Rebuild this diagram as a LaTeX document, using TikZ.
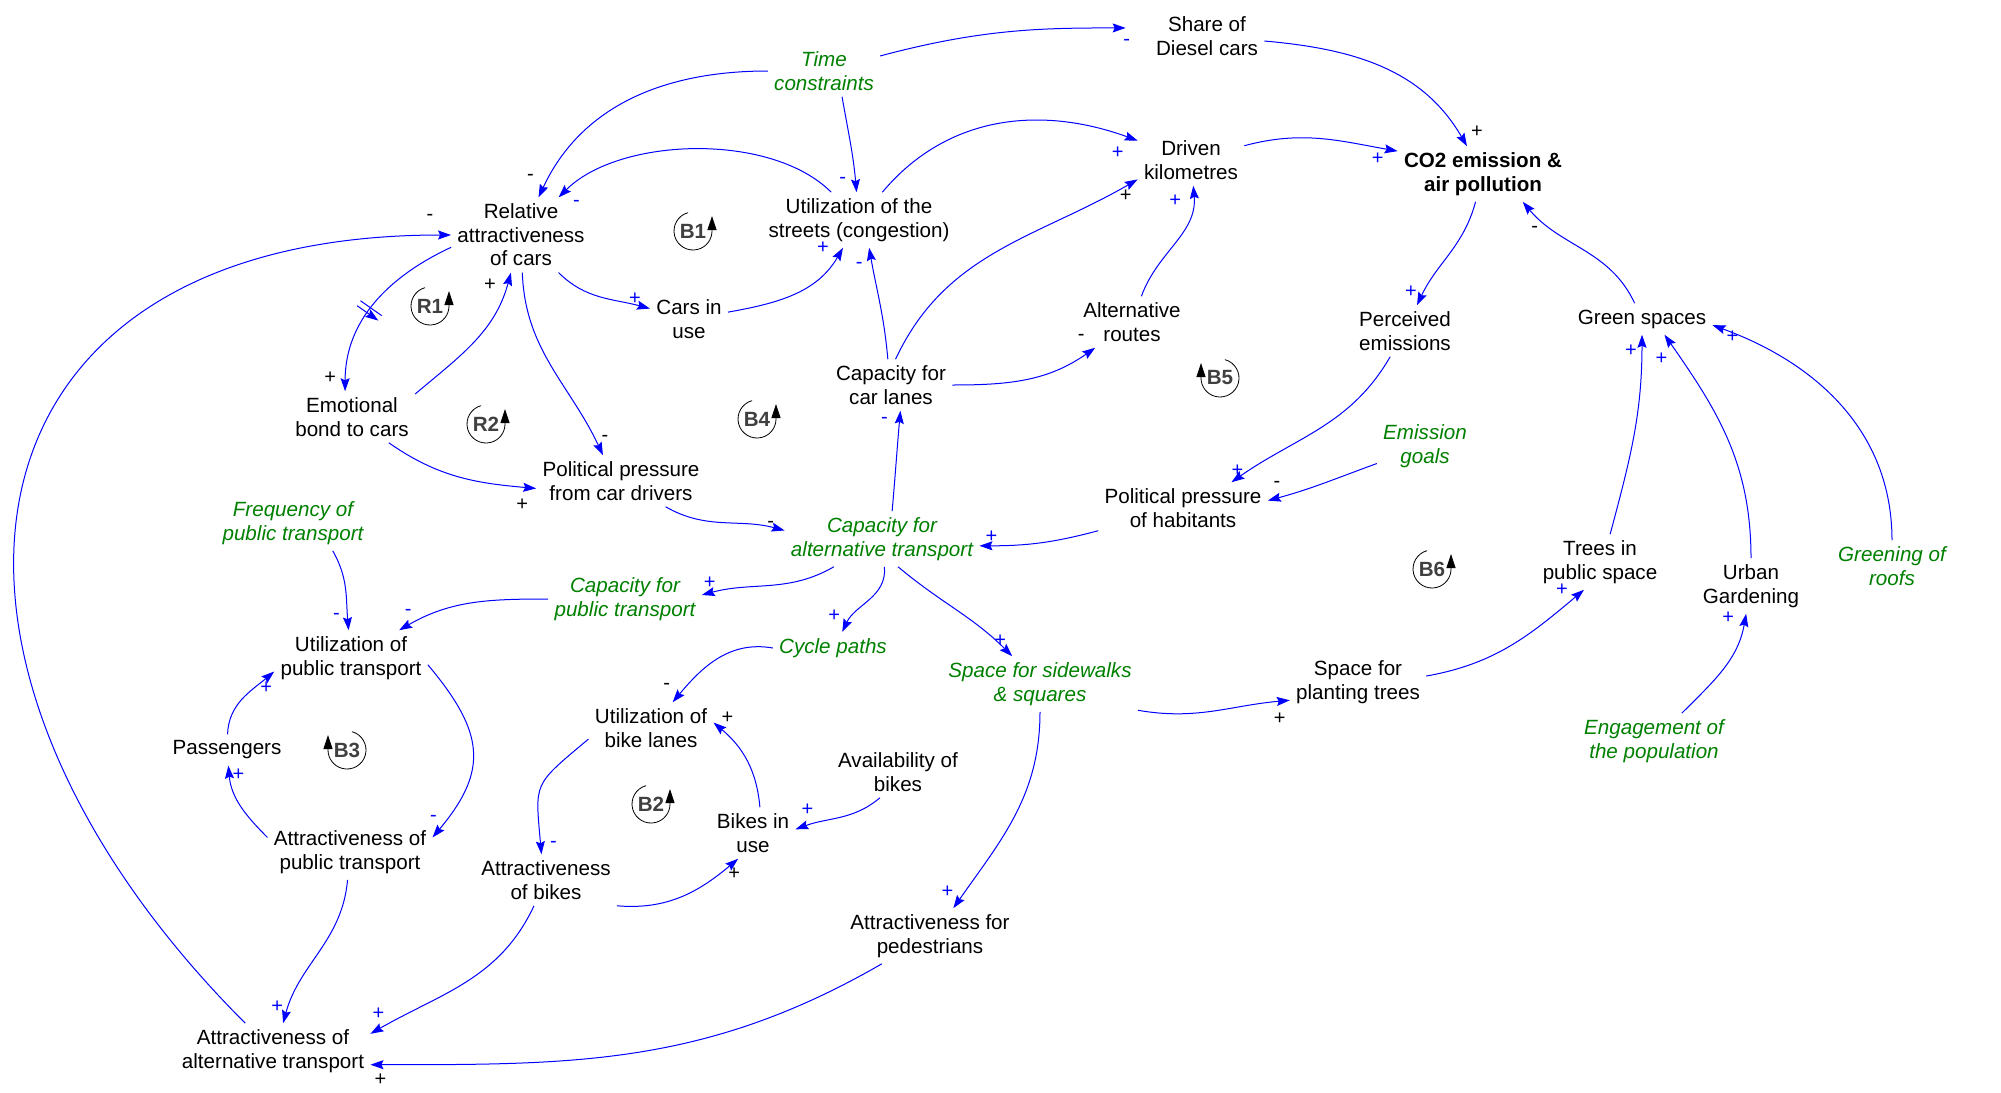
\documentclass[tikz,border=0pt]{standalone}
\usepackage{fontspec}
\setmainfont{Liberation Sans}
\usepackage{tikz}
\usetikzlibrary{arrows.meta,decorations.markings}
\definecolor{LinkBlue}{HTML}{0000FF}
\definecolor{ExoGreen}{HTML}{008000}
\definecolor{LoopGray}{HTML}{404040}
\newcommand{\cldfont}{\fontsize{10.3}{11.8}\selectfont}

\begin{document}
\begin{tikzpicture}[x=0.5pt,y=0.5pt,
  var/.style={align=center, inner sep=3pt, font=\cldfont, text=black},
  exo/.style={var, font=\cldfont\itshape, text=ExoGreen},
  key/.style={var, font=\cldfont\bfseries},
  link/.style={draw=LinkBlue, line width=0.5pt, -{Stealth[length=6.5pt,width=4.5pt,inset=1pt]}},
  sgb/.style={text=LinkBlue, font=\fontsize{10}{10}\selectfont, inner sep=0pt, pos=1},
  sgk/.style={sgb, text=black},
  looplbl/.style={font=\cldfont\bfseries, text=LoopGray, inner sep=0pt},
  loopring/.style={draw=black, line width=0.4pt, -{Triangle[length=7pt,width=4.5pt]}}]
\useasboundingbox (0,0) rectangle (2001,-1092);

% variables
\node[var] (diesel) at (1207,-36) {Share of\\Diesel cars};
\node[exo] (time) at (824,-71) {Time\\constraints};
\node[var] (driven) at (1191,-160) {Driven\\kilometres};
\node[key] (co2) at (1483,-174) {CO2 emission \&\\air pollution};
\node[var] (rel) at (521,-235) {Relative\\attractiveness\\of cars};
\node[var] (streets) at (859,-220) {Utilization of the\\streets (congestion)};
\node[var] (cars) at (689,-319) {Cars in\\use};
\node[var] (emo) at (352,-417) {Emotional\\bond to cars};
\node[var] (carlanes) at (891,-385) {Capacity for\\car lanes};
\node[var] (altroutes) at (1132,-322) {Alternative\\routes};
\node[var] (perceived) at (1405,-331) {Perceived\\emissions};
\node[var] (green) at (1642,-319) {Green spaces};
\node[var] (polcar) at (621,-481) {Political pressure\\from car drivers};
\node[exo] (goals) at (1425,-446) {Emission\\goals};
\node[var] (polhab) at (1183,-508) {Political pressure\\of habitants};
\node[exo] (freq) at (293,-523) {Frequency of\\public transport};
\node[exo] (capalt) at (882,-539) {Capacity for\\alternative transport};
\node[exo] (cappub) at (625,-599) {Capacity for\\public transport};
\node[var] (utilpub) at (351,-658) {Utilization of\\public transport};
\node[exo] (cycle) at (833,-648) {Cycle paths};
\node[exo] (sidewalk) at (1040,-684) {Space for sidewalks\\\& squares};
\node[var] (planting) at (1358,-682) {Space for\\planting trees};
\node[var] (trees) at (1600,-562) {Trees in\\public space};
\node[var] (urban) at (1751,-586) {Urban\\Gardening};
\node[exo] (roofs) at (1892,-566) {Greening of\\roofs};
\node[exo] (engage) at (1654,-741) {Engagement of\\the population};
\node[var] (passengers) at (227,-750) {Passengers};
\node[var] (utilbike) at (651,-728) {Utilization of\\bike lanes};
\node[var] (avail) at (898,-772) {Availability of\\bikes};
\node[var] (bikes) at (753,-833) {Bikes in\\use};
\node[var] (attrpub) at (350,-852) {Attractiveness of\\public transport};
\node[var] (attrbike) at (546,-880) {Attractiveness\\of bikes};
\node[var] (pedestr) at (930,-936) {Attractiveness for\\pedestrians};
\node[var] (altt) at (273,-1051) {Attractiveness of\\alternative transport};

% loop markers
\foreach \lp/\lx/\ly in {B1/693/231, R1/430/306, R2/486/424, B4/757/419, B2/651/804, B6/1432/569} {
  \node[looplbl] (loop\lp) at (\lx,-\ly) {\lp};
  \draw[loopring] (loop\lp.center) ++(105:9.5pt) arc[start angle=105, end angle=360, radius=9.5pt] -- ++(0,7.5pt);
}
\foreach \lp/\lx/\ly in {B5/1220/378, B3/347/750} {
  \node[looplbl] (loop\lp) at (\lx,-\ly) {\lp};
  \draw[loopring] (loop\lp.center) ++(75:9.5pt) arc[start angle=75, end angle=-180, radius=9.5pt] -- ++(0,7.5pt);
}

% links
\draw[link, shorten >=12pt] (time) to[out=15,in=180] node[sgb,shift={(-23,-15)}] {-} (diesel.172);
\draw[link] (time) to[out=180,in=65] node[sgk,shift={(-8,20)}] {-} (rel);
\draw[link] (time.-55) to[out=-80,in=95] node[sgb,shift={(-14,12)}] {-} (streets);
\draw[link] (streets) to[out=135,in=45,looseness=0.8] node[sgb,shift={(18,-6)}] {-} (rel);
\draw[link] (rel) to[out=-45,in=165] node[sgb,shift={(-15,10)}] {+} (cars);
\draw[link] (cars) to[out=10,in=240] node[sgb,shift={(-20,0)}] {+} (streets);
\draw[link] (streets) to[out=50,in=160] node[sgb,shift={(-20,-12)}] {+} (driven);
\draw[link] (carlanes.80) to[out=65,in=210] node[sgk,shift={(-12,-16)}] {+} (driven.200);
\draw[link] (altroutes) to[out=70,in=-85] node[sgb,shift={(-18,-15)}] {+} (driven);
\draw[link] (carlanes.97) to[out=95,in=-80] node[sgb,shift={(-10,-18)}] {-} (streets.-70);
\draw[link] (carlanes) to[out=0,in=215] node[sgk,shift={(-14,10)}] {-} (altroutes.215);
\draw[link] (driven) to[out=15,in=170] node[sgb,shift={(-20,-8)}] {+} (co2.165);
\draw[link] (diesel) to[out=-5,in=120] node[sgk,shift={(10,14)}] {+} (co2);
\draw[link] (co2) to[out=-105,in=65] node[sgb,shift={(-6,14)}] {+} (perceived);
\draw[link] (green) to[out=115,in=-50] node[sgk,shift={(12,-28)}] {-} (co2.-35);
\draw[link] (perceived) to[out=-120,in=35] node[sgb,shift={(6,12)}] {+} (polhab.28);
\draw[link] (goals) to[out=200,in=15] node[sgk,shift={(9,16)}] {-} (polhab.5);
\draw[link] (polhab) to[out=195,in=0] node[sgb,shift={(12,9)}] {+} (capalt.-4);
\draw[link] (polcar) to[out=-30,in=165] node[sgk,shift={(-14,6)}] {-} (capalt.175);
\draw[link] (rel) to[out=-88,in=115] node[sgk,shift={(2,17)}] {-} (polcar.125);
\draw[link] (emo) to[out=-35,in=175] node[sgk,shift={(-14,-16)}] {+} (polcar.185);
\draw[link] (emo.20) to[out=40,in=-105] node[sgk,shift={(-21,-12)}] {+} (rel.-105);
\draw[link, decoration={markings, mark=at position 0.55 with {\draw[line width=0.5pt] (-1.5pt,-6.5pt) -- (-1.5pt,6.5pt) (1.5pt,-6.5pt) -- (1.5pt,6.5pt);}}, postaction={decorate}]
  (rel.190) to[out=205,in=90] node[sgk,shift={(-15,14)}] {+} (emo.105);
\draw[link] (altt) to[out=135,in=180,looseness=1.6] node[sgk,shift={(-21,18)}] {-} (rel);
\draw[link] (capalt.70) to[out=85,in=-95] node[sgb,shift={(-16,-10)}] {-} (carlanes.-70);
\draw[link] (capalt) to[out=-150,in=15] node[sgb,shift={(8,12)}] {+} (cappub.3);
\draw[link] (cappub) to[out=180,in=30] node[sgb,shift={(9,18)}] {-} (utilpub);
\draw[link] (freq.-35) to[out=-60,in=95] node[sgb,shift={(-12,14)}] {-} (utilpub);
\draw[link] (capalt) to[out=-85,in=65] node[sgb,shift={(-8,16)}] {+} (cycle.60);
\draw[link] (capalt.-60) to[out=-40,in=135] node[sgb,shift={(-12,15)}] {+} (sidewalk);
\draw[link] (cycle.west) to[out=170,in=50] node[sgk,shift={(-6,16)}] {-} (utilbike);
\draw[link] (utilpub.-5) to[out=-50,in=50,looseness=1.3] node[sgb,shift={(1,19)}] {-} (attrpub.10);
\draw[link] (attrpub.170) to[out=135,in=-85] node[sgb,shift={(10,-9)}] {+} (passengers);
\draw[link] (passengers) to[out=88,in=220] node[sgb,shift={(-8,-16)}] {+} (utilpub.190);
\draw[link] (attrpub.-95) to[out=-95,in=75] node[sgb,shift={(-6,16)}] {+} (altt.70);
\draw[link] (attrbike) to[out=-115,in=30] node[sgb,shift={(8,20)}] {+} (altt.10);
\draw[link] (pedestr) to[out=-150,in=0] node[sgk,shift={(10,-15)}] {+} (altt.-8);
\draw[link] (utilbike.190) to[out=-140,in=95,looseness=1.5] node[sgb,shift={(12,10)}] {-} (attrbike.100);
\draw[link] (attrbike.-20) to[out=-5,in=220] node[sgk,shift={(-4,-15)}] {+} (bikes.240);
\draw[link] (bikes.75) to[out=95,in=-40] node[sgk,shift={(14,5)}] {+} (utilbike.5);
\draw[link] (avail.-125) to[out=-140,in=20] node[sgb,shift={(12,20)}] {+} (bikes.5);
\draw[link] (sidewalk) to[out=-90,in=55] node[sgb,shift={(-6,16)}] {+} (pedestr.50);
\draw[link] (sidewalk.-15) to[out=-10,in=185] node[sgk,shift={(-10,-18)}] {+} (planting.195);
\draw[link] (planting.5) to[out=10,in=220] node[sgb,shift={(-22,0)}] {+} (trees.-120);
\draw[link] (trees.70) to[out=75,in=-90] node[sgb,shift={(-11,-16)}] {+} (green);
\draw[link] (urban) to[out=90,in=-55] node[sgb,shift={(-3,-24)}] {+} (green.-35);
\draw[link] (roofs) to[out=90,in=-20] node[sgb,shift={(20,-12)}] {+} (green.-5);
\draw[link] (engage) to[out=45,in=-100] node[sgb,shift={(-18,-4)}] {+} (urban.-100);
\end{tikzpicture}
\end{document}
